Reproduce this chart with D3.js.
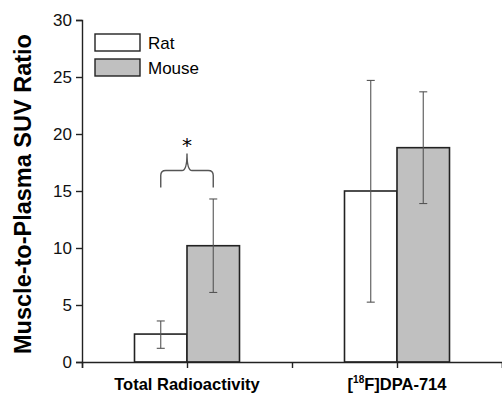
<!DOCTYPE html>
<html>
<head>
<meta charset="utf-8">
<script src="https://cdn.jsdelivr.net/npm/d3@7"></script>
<style>
  body { margin: 0; background: #fff; }
  svg { font-family: "Liberation Sans", Arial, sans-serif; }
</style>
</head>
<body>
<svg id="chart" width="502" height="394"></svg>
<script>
// data
const groups = ['Total Radioactivity', '[18F]DPA-714'];
const groupPos = [1, 3];
const series = ['Rat', 'Mouse'];
const seriesFill = ['#ffffff', '#c0c0c0'];
const ratMean = [2.45, 15.0];
const ratLow = [1.2, 5.25];
const ratHigh = [3.6, 24.7];
const mouseMean = [10.2, 18.8];
const mouseLow = [6.1, 13.9];
const mouseHigh = [14.3, 23.7];
const yTicks = [0, 5, 10, 15, 20, 25, 30];
// significance bracket over Total Radioactivity: [left, right, foot, shoulder, peak]
const bracket = [0.75, 1.25, 15.3, 16.8, 18.3];

const svg = d3.select('#chart');
const x = d3.scaleLinear().domain([0, 4]).range([82, 502]);
const y = d3.scaleLinear().domain([0, 30]).range([362, 20]);
const barW = x(0.5) - x(0);

// bars
const rows = [];
groups.forEach((g, i) => {
  rows.push({ s: 0, pos: groupPos[i] - 0.5, mean: ratMean[i], lo: ratLow[i], hi: ratHigh[i] });
  rows.push({ s: 1, pos: groupPos[i], mean: mouseMean[i], lo: mouseLow[i], hi: mouseHigh[i] });
});

svg.selectAll('rect.bar')
  .data(rows)
  .enter()
  .append('rect')
  .attr('class', 'bar')
  .attr('x', d => x(d.pos))
  .attr('y', d => y(d.mean))
  .attr('width', barW)
  .attr('height', d => y(0) - y(d.mean))
  .attr('fill', d => seriesFill[d.s])
  .attr('stroke', '#222')
  .attr('stroke-width', 1.6);

// error bars
const eb = svg.append('g').attr('stroke', '#555').attr('stroke-width', 1.1);
rows.forEach(d => {
  const cx = x(d.pos + 0.25);
  eb.append('line').attr('x1', cx).attr('x2', cx).attr('y1', y(d.lo)).attr('y2', y(d.hi));
  eb.append('line').attr('x1', cx - 4).attr('x2', cx + 4).attr('y1', y(d.lo)).attr('y2', y(d.lo));
  eb.append('line').attr('x1', cx - 4).attr('x2', cx + 4).attr('y1', y(d.hi)).attr('y2', y(d.hi));
});

// axes
const yAxis = svg.append('g')
  .attr('transform', `translate(${x(0)},0)`)
  .call(d3.axisLeft(y).tickValues(yTicks).tickSize(6).tickPadding(4));
yAxis.select('.domain').attr('stroke', '#222').attr('stroke-width', 1.4);
yAxis.selectAll('.tick line').attr('stroke', '#222').attr('stroke-width', 1.4);
yAxis.selectAll('text').attr('font-size', 17).attr('fill', '#111')
  .attr('font-family', '"Liberation Sans", Arial, sans-serif');

const xAxis = svg.append('g')
  .attr('transform', `translate(0,${y(0)})`)
  .call(d3.axisBottom(x).tickValues([0, 1, 2, 3, 4]).tickSize(6).tickFormat(''));
xAxis.select('.domain').attr('stroke', '#222').attr('stroke-width', 1.4);
xAxis.selectAll('.tick line').attr('stroke', '#222').attr('stroke-width', 1.4);

// category labels
svg.append('text')
  .attr('x', x(groupPos[0]))
  .attr('y', 390)
  .attr('text-anchor', 'middle')
  .attr('font-size', 16.5)
  .attr('font-weight', 'bold')
  .text(groups[0]);

const lbl = svg.append('text')
  .attr('x', x(groupPos[1]))
  .attr('y', 390)
  .attr('text-anchor', 'middle')
  .attr('font-size', 16.5)
  .attr('font-weight', 'bold');
lbl.append('tspan').text('[');
lbl.append('tspan').attr('font-size', 10).attr('dy', -7).text('18');
lbl.append('tspan').attr('dy', 7).text('F]DPA-714');

// y title
svg.append('text')
  .attr('transform', `translate(31,${(y(0) + y(30)) / 2 + 3}) rotate(-90)`)
  .attr('text-anchor', 'middle')
  .attr('font-size', 23.5)
  .attr('font-weight', 'bold')
  .text('Muscle-to-Plasma SUV Ratio');

// legend
const legend = svg.append('g').attr('transform', 'translate(95,34)');
series.forEach((s, i) => {
  const g = legend.append('g').attr('transform', `translate(0,${i * 25})`);
  g.append('rect')
    .attr('width', 45)
    .attr('height', 17)
    .attr('fill', seriesFill[i])
    .attr('stroke', '#222')
    .attr('stroke-width', 1.4);
  g.append('text')
    .attr('x', 53)
    .attr('y', 15)
    .attr('font-size', 17)
    .text(s);
});

// significance bracket
const [bl, br, bf, bs, bp] = bracket;
const bm = (bl + br) / 2;
const r = 5;
const path = d3.path();
path.moveTo(x(bl), y(bf));
path.lineTo(x(bl), y(bs) + r);
path.quadraticCurveTo(x(bl), y(bs), x(bl) + r, y(bs));
path.lineTo(x(bm) - r, y(bs));
path.quadraticCurveTo(x(bm), y(bs), x(bm), y(bp));
path.quadraticCurveTo(x(bm), y(bs), x(bm) + r, y(bs));
path.lineTo(x(br) - r, y(bs));
path.quadraticCurveTo(x(br), y(bs), x(br), y(bs) + r);
path.lineTo(x(br), y(bf));
svg.append('path')
  .attr('d', path.toString())
  .attr('fill', 'none')
  .attr('stroke', '#555')
  .attr('stroke-width', 1.4);

svg.append('text')
  .attr('x', x(bm))
  .attr('y', y(bp) - 1)
  .attr('text-anchor', 'middle')
  .attr('font-size', 20)
  .attr('font-family', '"DejaVu Sans", sans-serif')
  .text('*');
</script>
</body>
</html>
